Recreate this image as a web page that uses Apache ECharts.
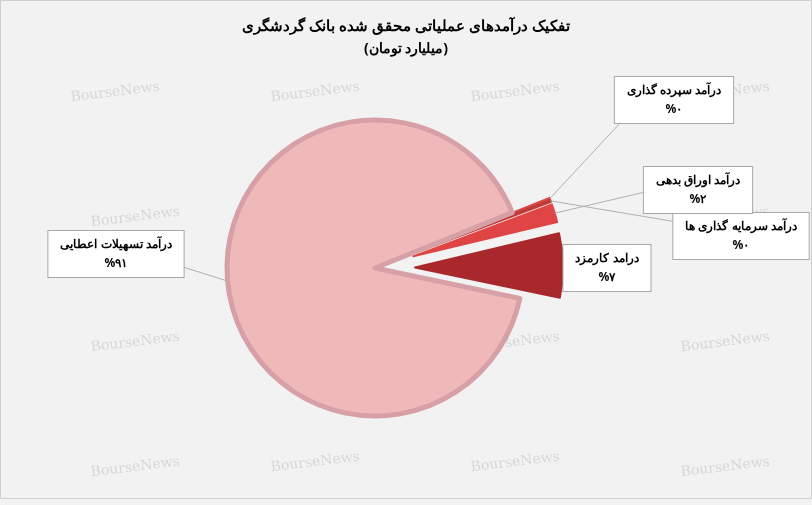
<!DOCTYPE html>
<html><head><meta charset="utf-8">
<script src="https://cdn.jsdelivr.net/npm/echarts@6/dist/echarts.min.js"></script>
<style>html,body{margin:0;padding:0;background:#fff}#chartmain{width:812px;height:505px}</style>
</head><body>
<div id="chartmain"></div>
<script>
// داده ها
var categories = ['درآمد سپرده گذاری', 'درآمد سرمایه گذاری ها', 'درآمد اوراق بدهی', 'درامد کارمزد', 'درآمد تسهیلات اعطایی'];
var values = [0.2, 0.2, 2, 7, 90.6];
var colors = ['#d94848', '#c03a3a', '#e04545', '#a8282c', '#efb8b9'];
// جای جعبه برچسب ها (مرکز) و لبه ای که خط از آن شروع می شود
var labelPos = [[674, 100], [741, 236], [698, 190], [607, 268], [116, 254]];
var lineFrom = [[622, 121], [677, 222], [645, 192], [570, 268], [180, 266]];

function fa(s) { return String(s).replace(/[0-9]/g, function (d) { return '۰۱۲۳۴۵۶۷۸۹'[d]; }); }

var marks = [];
var wm = [[70, 80], [270, 80], [470, 80], [90, 205], [680, 205], [90, 330], [680, 330], [270, 450], [470, 450], [90, 455], [680, 455], [680, 80], [470, 330], [270, 330]];
wm.forEach(function (p) {
    marks.push({ type: 'text', left: p[0], top: p[1], z: 0, rotation: 0.12, silent: true,
        style: { text: 'BourseNews', fill: 'rgba(0,0,0,0.12)', font: '14px "DejaVu Serif"' } });
});

var offset = 40;
var option = {
    animation: false,
    backgroundColor: '#f2f2f2',
    title: {
        text: 'تفکیک درآمدهای عملیاتی محقق شده بانک گردشگری',
        subtext: '(میلیارد تومان)',
        left: 'center', top: 14, itemGap: 8,
        textStyle: { fontFamily: 'Noto Sans', fontSize: 15, fontWeight: 'bold', color: '#000' },
        subtextStyle: { fontFamily: 'Noto Sans', fontSize: 14, fontWeight: 'bold', color: '#000' }
    },
    graphic: [{ type: 'rect', shape: { x: 0.5, y: 0.5, width: 811, height: 498 },
        style: { fill: 'none', stroke: '#cfcfcf' } }].concat(marks),
    series: [{
        type: 'pie',
        center: [375, 268],
        radius: 148,
        startAngle: 22,
        selectedMode: 'multiple',
        selectedOffset: offset,
        percentPrecision: 0,
        data: categories.map(function (c, i) {
            return { name: c, value: values[i], selected: i < 4,
                itemStyle: { color: colors[i], borderColor: i == 4 ? '#d7a0a6' : colors[i], borderWidth: i == 4 ? 5 : 2 } };
        }),
        label: { show: false },
        labelLine: { show: false },
        emphasis: { disabled: true }
    }]
};

var myChart = echarts.init(document.getElementById('chartmain'));
myChart.setOption(option);

// برچسب ها از روی چیدمان خود نمودار
var data = myChart.getModel().getSeriesByIndex(0).getData();
var total = values.reduce(function (a, b) { return a + b; });
var extra = [];
categories.forEach(function (c, i) {
    var l = data.getItemLayout(i);
    var mid = (l.startAngle + l.endAngle) / 2;
    var off = i < 4 ? offset : 0;
    var ex = l.cx + Math.cos(mid) * (l.r + off), ey = l.cy + Math.sin(mid) * (l.r + off);
    var pct = Math.round(values[i] / total * 100);
    if (i != 3) {
        extra.push({ type: 'polyline', z: 5, silent: true,
            shape: { points: [lineFrom[i], [ex, ey]] }, style: { stroke: '#b0b0b0', lineWidth: 1 } });
    }
    extra.push({ type: 'text', z: 10, x: labelPos[i][0], y: labelPos[i][1],
        style: {
            text: c + '\n%' + fa(pct), align: 'center', verticalAlign: 'middle',
            font: 'bold 12px "Noto Sans"', fill: '#000', lineHeight: 19,
            backgroundColor: '#fff', borderColor: '#a8a8a8', borderWidth: 1, padding: [4, 12]
        } });
});
myChart.setOption({ graphic: option.graphic.concat(extra) });
</script>
</body></html>
